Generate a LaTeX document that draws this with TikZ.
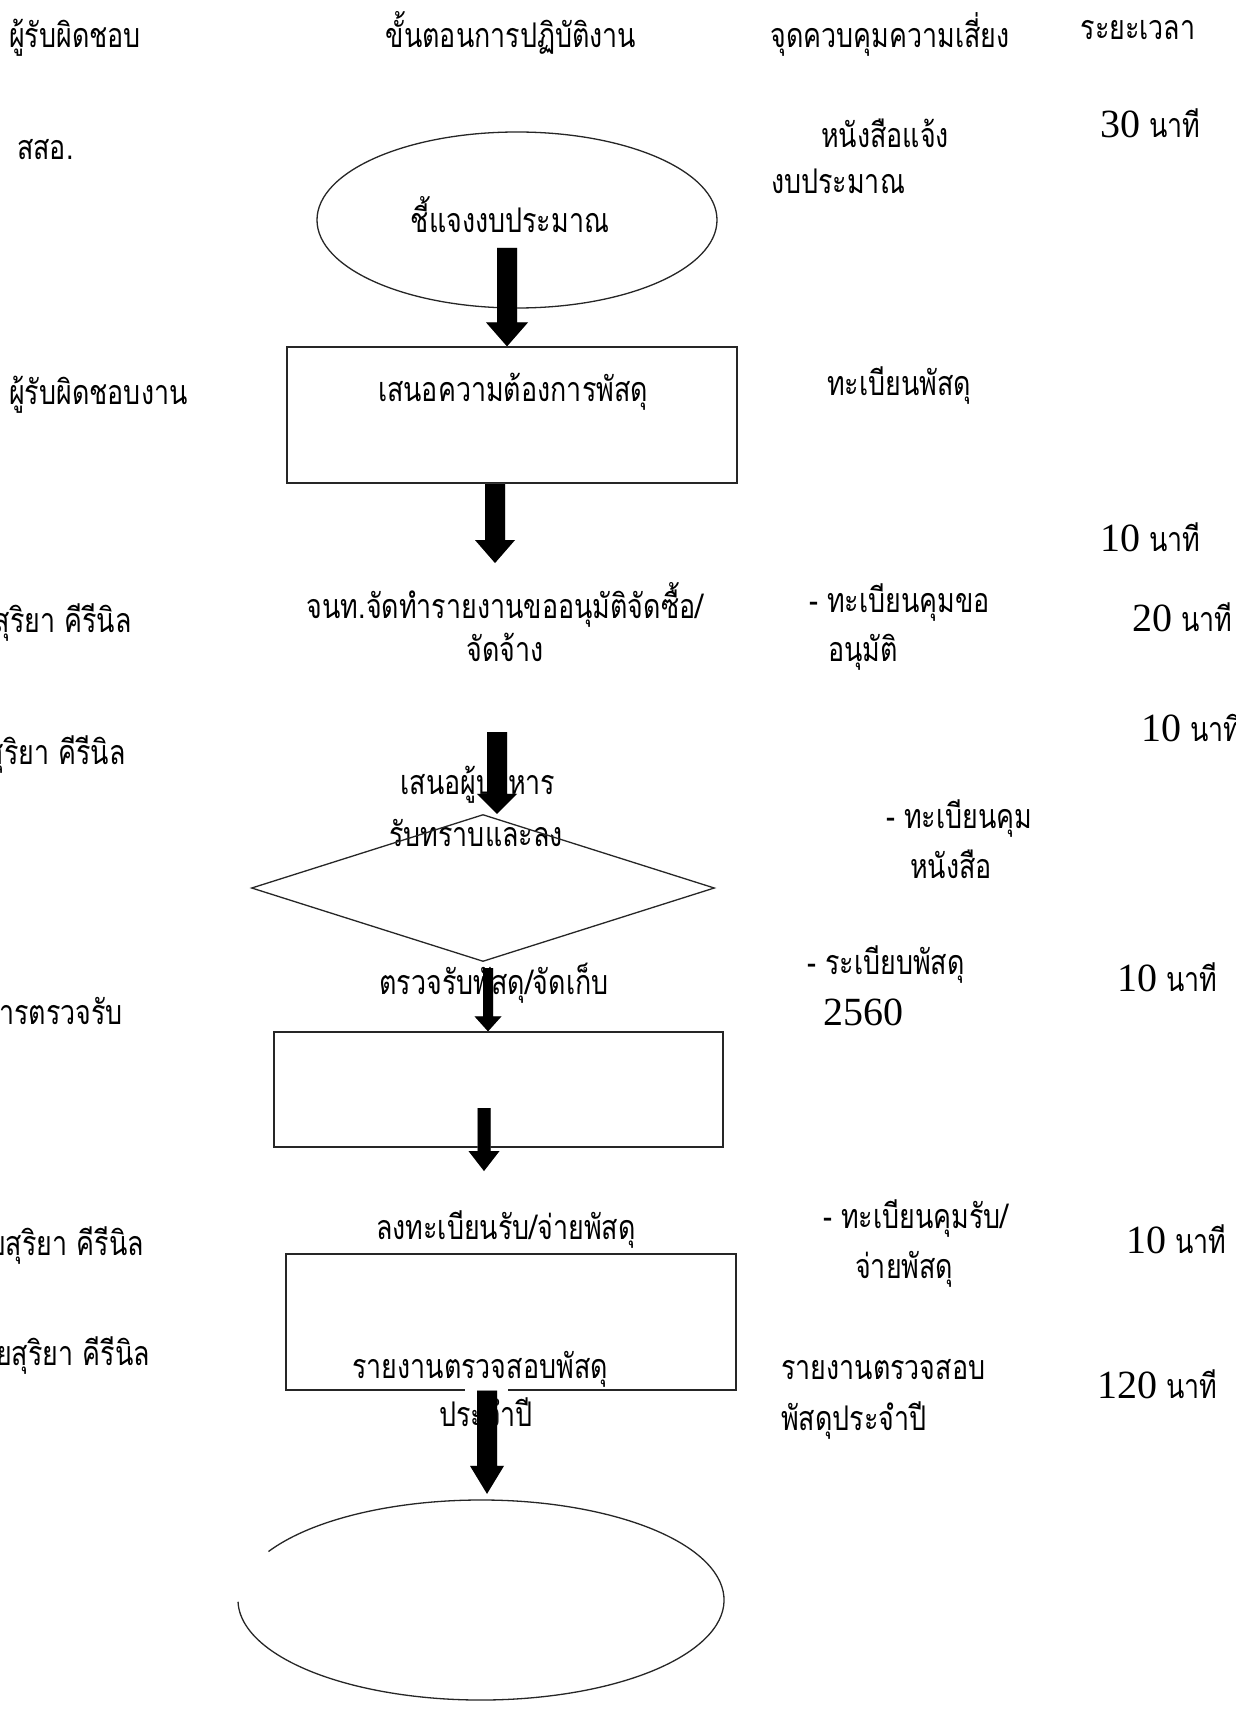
\documentclass[tikz,border=0pt]{standalone}
\usepackage{fontspec}
\usetikzlibrary{shapes.geometric,calc}
\newfontfamily\thf[Script=Thai,FakeStretch=0.79]{Loma}
\newfontfamily\numf{Liberation Serif}
\newcommand\nm[1]{{\numf\fontsize{40}{44}\selectfont #1}}
\newcommand\blkarrow[5]{%
  \fill[black!30,xshift=2.5pt,yshift=-2.5pt] let \p1=(#1), \p2=(#2) in
    (\x1-#3,\y1) -- (\x1+#3,\y1) -- (\x1+#3,\y2+#5) -- (\x1+#4,\y2+#5) -- (\x1,\y2) -- (\x1-#4,\y2+#5) -- (\x1-#3,\y2+#5) -- cycle;
  \fill[black] let \p1=(#1), \p2=(#2) in
    (\x1-#3,\y1) -- (\x1+#3,\y1) -- (\x1+#3,\y2+#5) -- (\x1+#4,\y2+#5) -- (\x1,\y2) -- (\x1-#4,\y2+#5) -- (\x1-#3,\y2+#5) -- cycle;
}
\begin{document}
\begin{tikzpicture}[x=1pt,y=-1pt,
  lw/.style={line width=1.3pt, draw=black!85},
  tx/.style={inner sep=0pt, font=\thf\fontsize{34}{40}\selectfont},
  tw/.style={tx, anchor=base west},
  tc/.style={tx, anchor=base},
  te/.style={tx, anchor=base east}]
\useasboundingbox (0,0) rectangle (1235,1720);
\fill[white] (0,0) rectangle (1235,1720);
\clip (0,0) rectangle (1235,1720);

% headers
\node[tw] (h1) at (9,48) {ผู้รับผิดชอบ};
\node[tc] (h2) at (511,48) {ขั้นตอนการปฏิบัติงาน};
\node[tc] (h3) at (890,48) {จุดควบคุมความเสี่ยง};
\node[tc] (h4) at (1138,40) {ระยะเวลา};

% left column
\node[tw] (l1) at (17,160) {สสอ.};
\node[tw] (l2) at (9,404) {ผู้รับผิดชอบงาน};
\node[te] (l3) at (132,632) {สุริยา คีรีนิล};
\node[te] (l4) at (126,764) {สุริยา คีรีนิล};
\node[te] (l5) at (123,1024) {การตรวจรับ};
\node[tw] (l6) at (-10,1255) {ยสุริยา คีรีนิล};
\node[tw] (l7) at (-4,1365) {ยสุริยา คีรีนิล};

% centre column texts
\node[tc] (c1) at (510,233) {ชี้แจงงบประมาณ};
\node[tc] (c2) at (513,401) {เสนอความต้องการพัสดุ};
\node[tc] (c3) at (505,618) {จนท.จัดทำรายงานขออนุมัติจัดซื้อ/};
\node[tc] (c4) at (505,661) {จัดจ้าง};
\node[tc] (c5) at (478,794) {เสนอผู้บริหาร};
\node[tc] (c6) at (476,846) {รับทราบและลง};
\node[tc] (c7) at (494,994) {ตรวจรับพัสดุ/จัดเก็บ};
\node[tc] (c8) at (506,1239) {ลงทะเบียนรับ/จ่ายพัสดุ};
\node[tc] (c9) at (480,1378) {รายงานตรวจสอบพัสดุ};
\node[tc] (c10) at (486,1426) {ประจำปี};

% risk control column
\node[tc] (k1) at (885,148) {หนังสือแจ้ง};
\node[tw] (k2) at (771,194) {งบประมาณ};
\node[tw] (k3) at (827,395) {ทะเบียนพัสดุ};
\node[tw] (k4) at (809,612) {- ทะเบียนคุมขอ};
\node[tw] (k5) at (828,661) {อนุมัติ};
\node[tw] (k6) at (886,828) {- ทะเบียนคุม};
\node[tw] (k7) at (910,878) {หนังสือ};
\node[tw] (k8) at (807,974) {- ระเบียบพัสดุ};
\node[tw] (k9) at (823,1025) {\nm{2560}};
\node[tw] (k10) at (823,1228) {- ทะเบียนคุมรับ/};
\node[tw] (k11) at (855,1278) {จ่ายพัสดุ};
\node[tw] (k12) at (781,1379) {รายงานตรวจสอบ};
\node[tw] (k13) at (781,1430) {พัสดุประจำปี};

% time column
\node[tw] (m1) at (1100,138) {\nm{30} นาที};
\node[tw] (m2) at (1100,551) {\nm{10} นาที};
\node[tw] (m3) at (1132,631) {\nm{20} นาที};
\node[tw] (m4) at (1141,741) {\nm{10} นาที};
\node[tw] (m5) at (1117,991) {\nm{10} นาที};
\node[tw] (m6) at (1126,1253) {\nm{10} นาที};
\node[tw] (m7) at (1097,1398) {\nm{120} นาที};

% flow shapes
\node[ellipse, lw, minimum width=400pt, minimum height=176pt, inner sep=0pt] (e1) at (517,220) {};
\node[rectangle, lw, minimum width=450pt, minimum height=136pt] (r1) at (512,415) {};
\node[diamond, lw, minimum width=463pt, minimum height=147pt, inner sep=0pt] (d) at (483,888) {};
\node[rectangle, lw, minimum width=449pt, minimum height=115pt] (r2) at (498.5,1089.5) {};
\node[rectangle, lw, minimum width=450pt, minimum height=136pt] (r3) at (511,1322) {};
\node[ellipse, minimum width=486pt, minimum height=200pt, inner sep=0pt] (e2) at (481,1600) {};
\draw[lw] ($(e2.center)+(209:243 and 100)$) arc[start angle=209, end angle=539, x radius=243, y radius=100];

% arrow anchor points
\coordinate (a1s) at (507,248);
\coordinate (a2s) at ($(r1.south)+(-17,0)$);
\coordinate (a2e) at (495,563);
\coordinate (a3s) at (497,732);
\coordinate (a4s) at (488,968);
\coordinate (a5s) at (484,1108);
\coordinate (a5e) at (484,1171);
\coordinate (a6s) at ($(r3.south)+(-24,0)$);
\coordinate (a6e) at ($(e2.north)+(6,-6)$);

\fill[white] (465,1386) rectangle (508,1394);

\blkarrow{a1s}{r1.north}{10pt}{21pt}{24pt}
\blkarrow{a2s}{a2e}{10pt}{20pt}{23pt}
\blkarrow{a3s}{d.north}{10pt}{20pt}{20pt}
\blkarrow{a4s}{r2.north}{5pt}{13.5pt}{15pt}
\blkarrow{a5s}{a5e}{6.5pt}{15.5pt}{20pt}
\blkarrow{a6s}{a6e}{10pt}{17pt}{28pt}
\end{tikzpicture}
\end{document}
